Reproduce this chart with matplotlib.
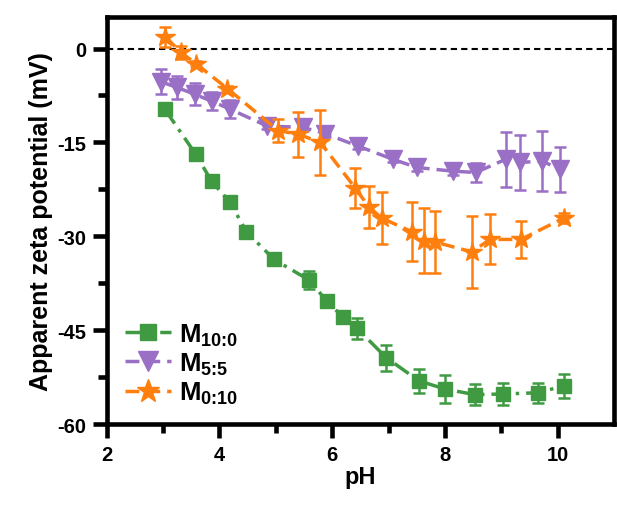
import matplotlib
matplotlib.use('Agg')
import matplotlib.pyplot as plt

plt.rcParams['font.family'] = 'Liberation Sans'
plt.rcParams['font.weight'] = 'bold'
plt.rcParams['axes.unicode_minus'] = False
plt.rcParams['mathtext.fontset'] = 'custom'
plt.rcParams['mathtext.rm'] = 'Liberation Sans:bold'
plt.rcParams['mathtext.bf'] = 'Liberation Sans:bold'

# M10:0 (green squares)
ph_a = [3.03, 3.58, 3.86, 4.19, 4.48, 4.97, 5.59, 5.91, 6.19, 6.44, 6.96, 7.54, 8.0, 8.53, 9.03, 9.65, 10.11]
zeta_a = [-9.7, -16.9, -21.2, -24.6, -29.3, -33.7, -37.0, -40.4, -42.9, -44.7, -49.4, -53.1, -54.4, -55.3, -55.2, -55.0, -53.9]
err_a = [0.3, 0.3, 0.3, 0.3, 0.3, 0.4, 1.5, 0.4, 0.4, 1.7, 2.1, 1.9, 2.3, 1.7, 1.7, 1.6, 1.9]

# M5:5 (purple triangles)
ph_b = [2.96, 3.24, 3.56, 3.86, 4.19, 4.85, 5.48, 5.88, 6.46, 7.08, 7.50, 8.14, 8.55, 9.08, 9.33, 9.73, 10.04]
zeta_b = [-5.3, -6.2, -7.3, -8.4, -9.7, -12.4, -12.6, -13.6, -15.6, -17.7, -19.0, -19.6, -19.8, -17.7, -18.2, -18.0, -19.3]
err_b = [2.0, 1.8, 1.75, 1.4, 1.4, 0.5, 0.5, 0.5, 0.5, 0.5, 0.5, 0.6, 1.5, 4.4, 4.4, 4.8, 3.6]

# M0:10 (orange stars)
ph_c = [3.04, 3.31, 3.58, 4.14, 5.04, 5.40, 5.79, 6.41, 6.65, 6.88, 7.42, 7.63, 7.82, 8.48, 8.80, 9.35, 10.11]
zeta_c = [1.9, -0.6, -2.4, -6.4, -13.1, -13.7, -15.0, -22.3, -25.3, -27.1, -29.3, -30.7, -30.9, -32.5, -30.5, -30.5, -27.1]
err_c = [1.6, 1.0, 0.4, 0.4, 1.9, 3.6, 5.2, 3.2, 3.3, 4.1, 4.7, 5.2, 4.9, 5.8, 4.0, 2.9, 0.8]

labels = [r'M$_{10\colon0}$', r'M$_{5\colon5}$', r'M$_{0\colon10}$']

green = '#3f9a42'
purple = '#9a6fc6'
orange = '#ff7f0e'

fig = plt.figure(figsize=(6.17, 5.06), dpi=100)
ax = fig.add_axes([0.173, 0.160, 0.822, 0.804])

ax.axhline(0, color='black', linestyle=(0, (3, 2)), linewidth=1.5, zorder=1)

ax.errorbar(ph_a, zeta_a, yerr=err_a, color=green, marker='s', markersize=10.5,
            linestyle=(0, (5, 2, 1, 2)), linewidth=2.5, elinewidth=1.8, capsize=4, capthick=1.8,
            label=labels[0], zorder=3)
ax.errorbar(ph_b, zeta_b, yerr=err_b, color=purple, marker='v', markersize=12.5,
            linestyle=(0, (4, 2)), linewidth=2.5, elinewidth=1.8, capsize=4, capthick=1.8,
            label=labels[1], zorder=3)
ax.errorbar(ph_c, zeta_c, yerr=err_c, color=orange, marker='*', markersize=15,
            linestyle=(0, (4, 2)), linewidth=2.5, elinewidth=1.8, capsize=4, capthick=1.8,
            label=labels[2], zorder=4)

ax.set_xlim(2, 11)
ax.set_ylim(-60, 5)
ax.set_xticks([2, 4, 6, 8, 10])
ax.set_xticks([3, 5, 7, 9], minor=True)
ax.set_yticks([0, -15, -30, -45, -60])
ax.set_yticks([-7.5, -22.5, -37.5, -52.5], minor=True)

for s in ax.spines.values():
    s.set_linewidth(3.3)
ax.tick_params(which='major', direction='out', length=10, width=3.3, labelsize=14.5, pad=5)
ax.tick_params(which='minor', direction='out', length=6.5, width=3.3)

ax.set_xlabel('pH', fontsize=17, fontweight='bold', labelpad=1)
ax.set_ylabel('Apparent zeta potential (mV)', fontsize=18, fontweight='bold', labelpad=3)

handles, labs = ax.get_legend_handles_labels()
handles = [h[0] for h in handles]
leg = ax.legend(handles, labs, loc='lower left', frameon=False, fontsize=18.5,
                handlelength=1.8, handletextpad=0.3, borderaxespad=0.3, labelspacing=0.1,
                markerscale=1.15)

plt.savefig('out.png', dpi=100)
